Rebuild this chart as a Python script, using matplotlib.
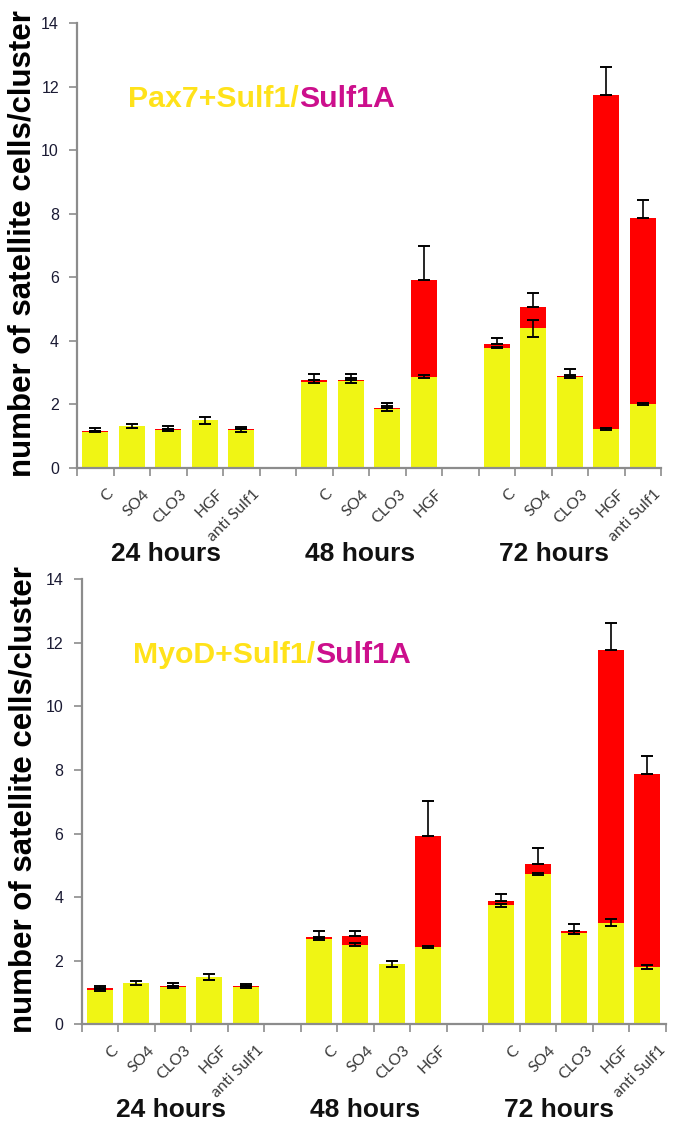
import numpy as np
import matplotlib
matplotlib.use('Agg')
import matplotlib.pyplot as plt

# category labels (with empty gap slots between time groups)
cats = ['C', 'SO4', 'CLO3', 'HGF', 'anti Sulf1', '',
        'C', 'SO4', 'CLO3', 'HGF', '',
        'C', 'SO4', 'CLO3', 'HGF', 'anti Sulf1']
groups = ['24 hours', '48 hours', '72 hours']
nan = np.nan

# Pax7 panel: yellow part, red increment, error at yellow top (sym), error at total top (upper)
pax_yellow = [1.14, 1.32, 1.19, 1.50, 1.19, nan, 2.72, 2.75, 1.87, 2.87, nan, 3.79, 4.39, 2.87, 1.22, 2.00]
pax_red    = [0.03, 0.00, 0.03, 0.00, 0.03, nan, 0.04, 0.03, 0.03, 3.04, nan, 0.10, 0.66, 0.04, 10.53, 5.88]
pax_err_y  = [0.02, 0.05, 0.03, 0.11, 0.05, nan, 0.06, 0.07, 0.09, 0.05, nan, 0.03, 0.26, 0.05, 0.03, 0.03]
pax_err_t  = [0.09, 0.00, 0.09, 0.00, 0.07, nan, 0.20, 0.18, 0.13, 1.08, nan, 0.21, 0.45, 0.22, 0.87, 0.55]

# MyoD panel
myo_yellow = [1.08, 1.30, 1.17, 1.49, 1.17, nan, 2.68, 2.50, 1.90, 2.42, nan, 3.75, 4.72, 2.88, 3.20, 1.81]
myo_red    = [0.05, 0.00, 0.05, 0.00, 0.05, nan, 0.06, 0.28, 0.00, 3.50, nan, 0.14, 0.32, 0.04, 8.57, 6.08]
myo_err_y  = [0.04, 0.05, 0.04, 0.10, 0.03, nan, 0.03, 0.05, 0.10, 0.03, nan, 0.05, 0.03, 0.04, 0.10, 0.07]
myo_err_t  = [0.09, 0.00, 0.08, 0.00, 0.06, nan, 0.20, 0.16, 0.00, 1.09, nan, 0.22, 0.50, 0.22, 0.87, 0.55]

YELLOW = '#F0F514'
RED = '#FF0000'
TITLE_Y = '#FFE21A'
TITLE_M = '#CC0F8C'
AXIS_GRAY = '#8c8c8c'

plt.rcParams['font.family'] = ['Liberation Sans', 'DejaVu Sans']

fig = plt.figure(figsize=(6.76, 11.34), dpi=100)
ax1 = fig.add_axes([77 / 676, 1 - 468 / 1134, 584 / 676, 445 / 1134])
ax2 = fig.add_axes([81.5 / 676, 1 - 1024.3 / 1134, 584 / 676, 445 / 1134])


def draw_panel(ax, yellow, red, err_y, err_t, title_a, ylab_x):
    x = np.arange(len(cats))
    yellow = np.array(yellow)
    red = np.array(red)
    total = yellow + red
    ax.bar(x, yellow, width=0.72, color=YELLOW, zorder=2)
    ax.bar(x, red, width=0.72, bottom=yellow, color=RED, zorder=2)
    ey = np.array(err_y)
    et = np.array(err_t)
    ax.errorbar(x, yellow, yerr=ey, fmt='none', ecolor='black', elinewidth=1.2,
                capsize=4, capthick=1.4, zorder=3)
    m = et > 0
    ax.errorbar(x[m], total[m], yerr=[np.zeros(m.sum()), et[m]], fmt='none', ecolor='black',
                elinewidth=1.2, capsize=4, capthick=1.4, zorder=3)

    ax.set_xlim(-0.5, len(cats) - 0.5)
    ax.set_ylim(0, 14)
    ax.set_yticks(range(0, 15, 2))
    ax.tick_params(axis='y', direction='out', length=6, color=AXIS_GRAY, labelsize=11.5,
                   labelcolor='#1a1a33', pad=7, width=1.2)
    ax.set_xticks(np.arange(-0.5, len(cats), 1.0))
    ax.set_xticklabels([])
    ax.tick_params(axis='x', direction='out', length=6, color=AXIS_GRAY, width=1.2)
    for lab, xi in zip(cats, x):
        if lab:
            ax.text(xi + 0.3, -0.6, lab, rotation=45, ha='right', va='top',
                    rotation_mode='anchor', fontsize=11.5, color='#3a3a3a', family='Lato')
    for sp in ['top', 'right']:
        ax.spines[sp].set_visible(False)
    for sp in ['left', 'bottom']:
        ax.spines[sp].set_color(AXIS_GRAY)
        ax.spines[sp].set_linewidth(1.6)

    for g, gx in zip(groups, [1.95, 7.26, 12.58]):
        ax.text(gx, -2.7, g, ha='center', va='center', fontsize=19, fontweight='bold',
                color='#111111')

    ax.set_ylabel('number of satellite cells/cluster', fontsize=22.5, fontweight='bold')
    ax.yaxis.set_label_coords(ylab_x, 0.505)

    t1 = ax.text(0.088, 0.829, title_a, transform=ax.transAxes, fontsize=21.8,
                 fontweight='bold', color=TITLE_Y, va='center', ha='left')
    ax.annotate('Sulf1A', xycoords=t1, xy=(1, 0.5), va='center', ha='left',
                fontsize=21.8, fontweight='bold', color=TITLE_M)


draw_panel(ax1, pax_yellow, pax_red, pax_err_y, pax_err_t, 'Pax7+Sulf1/', -0.068)
draw_panel(ax2, myo_yellow, myo_red, myo_err_y, myo_err_t, 'MyoD+Sulf1/', -0.074)

fig.savefig('out.png', dpi=100)
